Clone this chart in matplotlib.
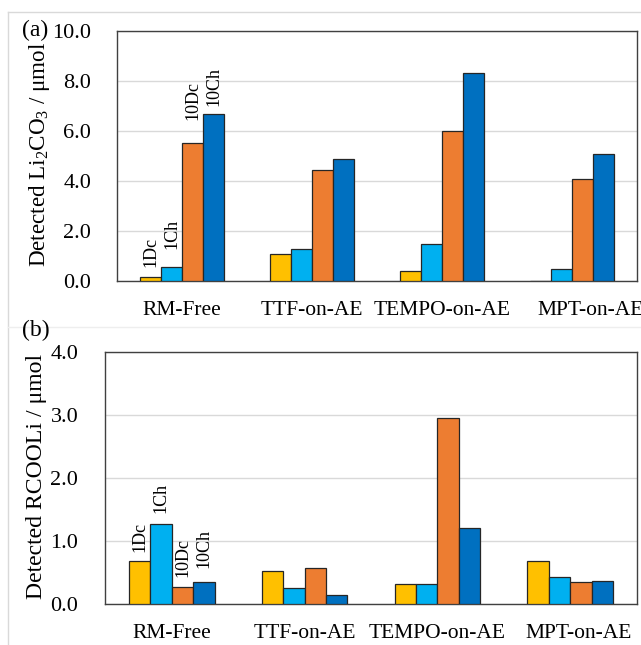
import numpy as np
import matplotlib
matplotlib.use("Agg")
import matplotlib.pyplot as plt
from matplotlib.lines import Line2D
from matplotlib.transforms import ScaledTranslation

plt.rcParams['font.family'] = ['Liberation Serif', 'DejaVu Serif']
plt.rcParams['mathtext.default'] = 'regular'

# data
categories = ['RM-Free', 'TTF-on-AE', 'TEMPO-on-AE', 'MPT-on-AE']
series = ['1Dc', '1Ch', '10Dc', '10Ch']
colors = ['#FFC000', '#00B0F0', '#ED7D31', '#0070C0']

li2co3 = {
    '1Dc': [0.15, 1.08, 0.41, 0.02],
    '1Ch': [0.57, 1.27, 1.47, 0.49],
    '10Dc': [5.53, 4.44, 6.00, 4.08],
    '10Ch': [6.68, 4.87, 8.33, 5.10],
}
rcooli = {
    '1Dc': [0.68, 0.52, 0.31, 0.68],
    '1Ch': [1.27, 0.25, 0.31, 0.43],
    '10Dc': [0.27, 0.57, 2.96, 0.35],
    '10Ch': [0.35, 0.15, 1.21, 0.36],
}

# label positions above RM-Free bars (data units)
labels_a = [0.55, 1.3, 6.45, 7.0]
labels_b = [0.83, 1.45, 0.43, 0.57]

fig = plt.figure(figsize=(6.41, 6.45), dpi=100)

# excel chart area borders
grey = '#d9d9d9'
fig.add_artist(Line2D([8/641, 1], [1 - 12/645, 1 - 12/645], color=grey, lw=1.0))
fig.add_artist(Line2D([8/641, 8/641], [0, 1 - 12/645], color=grey, lw=1.0))
fig.add_artist(Line2D([8/641, 1], [1 - 327/645, 1 - 327/645], color='#eeeeee', lw=1.0))

ax_a = fig.add_axes([117/641, 1 - 281/645, 520/641, 250/645])
ax_b = fig.add_axes([105.3/641, 1 - 604/645, 531.4/641, 251.7/645])

x = np.arange(len(categories))
w = 0.646 / 4


def draw(ax, data, ymax, step, ylabel, lab_y, lab_size, lab_coords, ypad, last_shift):
    for i, s in enumerate(series):
        ax.bar(x + (i - 1.5) * w, data[s], width=w, color=colors[i],
               edgecolor='#262626', linewidth=0.9, zorder=3)
    for i, s in enumerate(series):
        ax.text(x[0] + (i - 1.5) * w, lab_y[i], s, rotation=90, ha='center',
                va='bottom', fontsize=13)
    ax.set_xlim(-0.5, len(categories) - 0.5)
    ax.set_ylim(0, ymax)
    ticks = np.arange(0, ymax + step / 2, step)
    ax.set_yticks(ticks)
    ax.set_yticklabels([f'{t:.1f}' for t in ticks])
    ax.set_xticks(x)
    ax.set_xticklabels(categories)
    ax.tick_params(axis='y', length=0, pad=ypad, labelsize=16)
    ax.tick_params(axis='x', length=0, pad=14.5, labelsize=15.5)
    # excel nudged the last category label to the right
    lab = ax.get_xticklabels()[-1]
    lab.set_transform(lab.get_transform() + ScaledTranslation(last_shift / 100, 0, fig.dpi_scale_trans))
    ax.yaxis.grid(True, color=grey, lw=1.0, zorder=0)
    ax.set_axisbelow(True)
    for sp in ax.spines.values():
        sp.set_color('#404040')
        sp.set_linewidth(1.0)
    ax.set_ylabel(ylabel, fontsize=lab_size)
    ax.yaxis.set_label_coords(*lab_coords)


draw(ax_a, li2co3, 10, 2, 'Detected Li$_2$CO$_3$ / μmol', labels_a, 16.6, (-0.125, 0.504), 18.7, 19)
draw(ax_b, rcooli, 4, 1, 'Detected RCOOLi / μmol', labels_b, 17.1, (-0.1095, 0.505), 19.4, 8)

fig.text(22/641, 1 - 30/645, '(a)', fontsize=17, va='center', ha='left')
fig.text(22/641, 1 - 330/645, '(b)', fontsize=17, va='center', ha='left')

fig.savefig('out.png', dpi=100)
